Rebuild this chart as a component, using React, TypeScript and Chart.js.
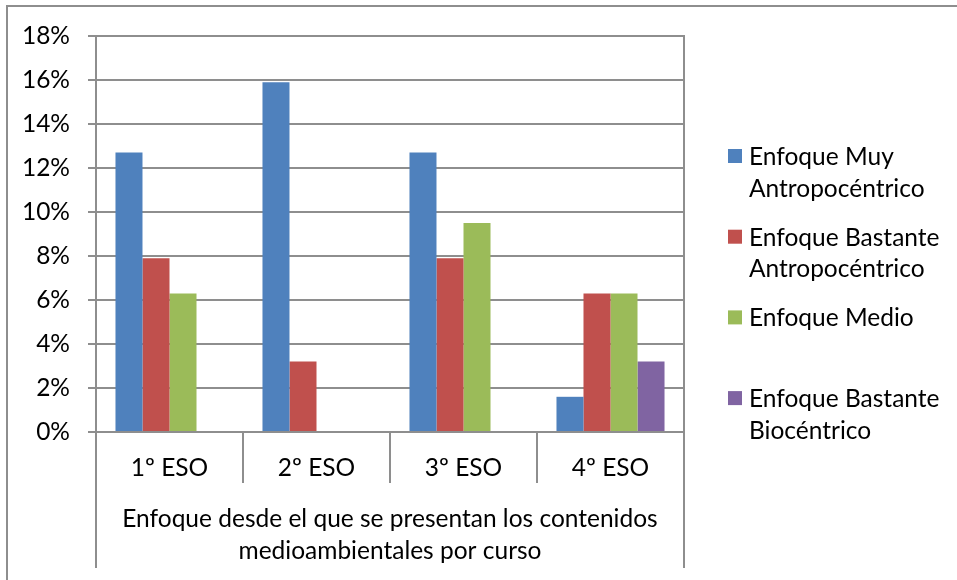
import React, { useEffect, useRef } from "react";
import { Chart, registerables } from "chart.js";

Chart.register(...registerables);

const CATEGORIES = ["1º ESO", "2º ESO", "3º ESO", "4º ESO"];
const SERIES_NAMES = [
  "Enfoque Muy Antropocéntrico",
  "Enfoque Bastante Antropocéntrico",
  "Enfoque Medio",
  "Enfoque Bastante Biocéntrico",
];
const LEGEND_LINES = [
  ["Enfoque Muy", "Antropocéntrico"],
  ["Enfoque Bastante", "Antropocéntrico"],
  ["Enfoque Medio"],
  ["Enfoque Bastante", "Biocéntrico"],
];
const MUY_ANTROPO = [12.7, 15.9, 12.7, 1.6];
const BASTANTE_ANTROPO = [7.9, 3.2, 7.9, 6.3];
const MEDIO = [6.3, 0, 9.5, 6.3];
const BASTANTE_BIO = [0, 0, 0, 3.2];
const COLORS = ["#4F81BD", "#C0504D", "#9BBB59", "#8064A2"];
const Y_TICK_VALUES = [0, 2, 4, 6, 8, 10, 12, 14, 16, 18];
const Y_TICK_LABELS = ["0%", "2%", "4%", "6%", "8%", "10%", "12%", "14%", "16%", "18%"];
const AXIS_TITLE_LINES = [
  "Enfoque desde el que se presentan los contenidos",
  "medioambientales por curso",
];

const FONT_FAMILY = "Lato, 'Open Sans', sans-serif";
const FONT_SIZE = 24.5;
const GRID_COLOR = "#8e8e8e";

const framePlugin = {
  id: "frame",
  beforeDraw(chart: any) {
    const ctx = chart.ctx;
    ctx.save();
    ctx.fillStyle = "#ffffff";
    ctx.fillRect(0, 0, chart.width, chart.height);
    ctx.strokeStyle = GRID_COLOR;
    ctx.lineWidth = 2;
    ctx.beginPath();
    ctx.moveTo(6, 6);
    ctx.lineTo(chart.width, 6);
    ctx.moveTo(7, 5);
    ctx.lineTo(7, chart.height);
    ctx.stroke();
    ctx.restore();
  },
  afterDraw(chart: any) {
    const ctx = chart.ctx;
    const area = chart.chartArea;
    const xs = chart.scales.x;
    const n = CATEGORIES.length;
    const step = (area.right - area.left) / n;
    ctx.save();
    ctx.strokeStyle = GRID_COLOR;
    ctx.lineWidth = 2;
    ctx.beginPath();
    ctx.moveTo(area.right, area.top - 1);
    ctx.lineTo(area.right, area.bottom);
    for (let i = 0; i <= n; i++) {
      const x = area.left + i * step;
      const outer = i === 0 || i === n;
      ctx.moveTo(x, area.bottom);
      ctx.lineTo(x, outer ? xs.bottom - 12 : area.bottom + 51);
    }
    ctx.stroke();

    ctx.fillStyle = "#000";
    ctx.font = `${FONT_SIZE}px ${FONT_FAMILY}`;
    ctx.textAlign = "center";
    ctx.textBaseline = "alphabetic";
    const cx = (area.left + area.right) / 2;
    AXIS_TITLE_LINES.forEach((line, j) => {
      ctx.fillText(line, cx, area.bottom + 95 + j * 31.5);
    });

    ctx.textAlign = "left";
    chart.data.datasets.forEach((ds: any, i: number) => {
      const base = 165 + i * 80.7;
      ctx.fillStyle = ds.backgroundColor;
      ctx.fillRect(728, base - 16, 14, 14);
      ctx.fillStyle = "#000";
      LEGEND_LINES[i].forEach((l, j) => ctx.fillText(l, 749, base + j * 31.5));
    });
    ctx.restore();
  },
};

export default function App() {
  const canvasRef = useRef<HTMLCanvasElement | null>(null);

  useEffect(() => {
    const canvas = canvasRef.current;
    if (!canvas) return;
    const values = [MUY_ANTROPO, BASTANTE_ANTROPO, MEDIO, BASTANTE_BIO];
    const chart = new Chart(canvas, {
      type: "bar",
      data: {
        labels: CATEGORIES,
        datasets: SERIES_NAMES.map((name, i) => ({
          label: name,
          data: values[i],
          backgroundColor: COLORS[i],
          borderWidth: 0,
          categoryPercentage: 0.735,
          barPercentage: 1.0,
        })),
      },
      options: {
        responsive: false,
        animation: false,
        devicePixelRatio: 1,
        layout: { padding: { left: 0, top: 36, right: 273, bottom: 0 } },
        plugins: {
          legend: { display: false },
          tooltip: { enabled: false },
          title: { display: false },
        },
        scales: {
          x: {
            type: "category",
            offset: true,
            grid: { display: false, drawTicks: false, tickLength: 0 },
            border: { display: false },
            ticks: {
              color: "#000",
              font: { family: FONT_FAMILY, size: FONT_SIZE },
              padding: 21,
              maxRotation: 0,
            },
            afterFit: (scale: any) => {
              scale.height = 148;
            },
          },
          y: {
            min: 0,
            max: 18,
            afterBuildTicks: (scale: any) => {
              scale.ticks = Y_TICK_VALUES.map((v) => ({ value: v }));
            },
            grid: {
              color: GRID_COLOR,
              lineWidth: 2,
              drawTicks: true,
              tickLength: 8,
            },
            border: { display: true, color: GRID_COLOR, width: 2 },
            ticks: {
              color: "#000",
              font: { family: FONT_FAMILY, size: FONT_SIZE },
              padding: 18,
              callback: (v: any) => Y_TICK_LABELS[Y_TICK_VALUES.indexOf(Number(v))],
            },
            afterFit: (scale: any) => {
              scale.width = 96;
            },
          },
        },
      },
      plugins: [framePlugin],
    });
    return () => chart.destroy();
  }, []);

  return (
    <div style={{ position: "absolute", left: 0, top: 0, width: 957, height: 580 }}>
      <canvas ref={canvasRef} width={957} height={580} style={{ width: 957, height: 580 }} />
    </div>
  );
}
